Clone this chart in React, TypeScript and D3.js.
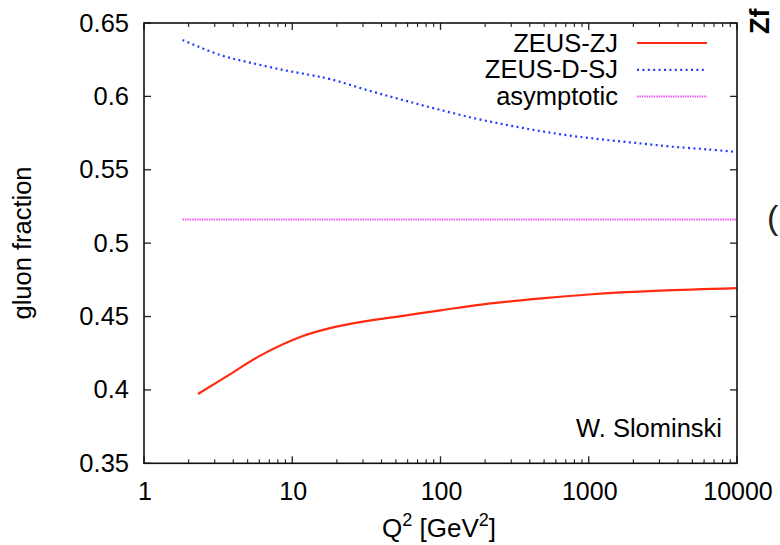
import React from "react";
import * as d3 from "d3";

// Gluon momentum fraction vs Q^2 for two parametrisations, plus the asymptotic value
const zjQ2 = [2.31, 3.63, 6.35, 11.8, 18, 30, 56, 100, 200, 500, 1000, 3000, 10000];
const zjFrac = [0.3972, 0.4094, 0.4244, 0.4367, 0.4421, 0.4465, 0.4505, 0.4542, 0.4585, 0.4625, 0.465, 0.4676, 0.4694];

const dsjQ2 = [1.82, 3.26, 5.19, 8.7, 13.2, 18, 33.5, 55.9, 94.3, 165.7, 281, 469, 783, 1327, 2217, 3700, 6280, 10000];
const dsjFrac = [0.6384, 0.6282, 0.623, 0.618, 0.6146, 0.6118, 0.6037, 0.5975, 0.5914, 0.5853, 0.5805, 0.5764, 0.573, 0.5703, 0.568, 0.5657, 0.5639, 0.5621];

const asymQ2 = [1.82, 10000];
const asymFrac = [16 / 31, 16 / 31];

const xTickValues = [1, 10, 100, 1000, 10000];
const xTickLabels = ["1", "10", "100", "1000", "10000"];
const yTickValues = [0.35, 0.4, 0.45, 0.5, 0.55, 0.6, 0.65];
const yTickLabels = ["0.35", "0.4", "0.45", "0.5", "0.55", "0.6", "0.65"];

const legendNames = ["ZEUS-ZJ", "ZEUS-D-SJ", "asymptotic"];

const W = 780;
const H = 545;
const left = 144;
const right = 737;
const top = 23;
const bottom = 463.3;
const FONT = "'Liberation Sans', Arial, Helvetica, sans-serif";

export default function App() {
  const x = d3.scaleLog().domain([1, 10000]).range([left, right]);
  const y = d3.scaleLinear().domain([0.35, 0.65]).range([bottom, top]);

  const line = d3
    .line<[number, number]>()
    .x((d) => x(d[0]))
    .y((d) => y(d[1]))
    .curve(d3.curveCatmullRom.alpha(0.5));

  const zj = zjQ2.map((q, i) => [q, zjFrac[i]] as [number, number]);
  const dsj = dsjQ2.map((q, i) => [q, dsjFrac[i]] as [number, number]);
  const asym = asymQ2.map((q, i) => [q, asymFrac[i]] as [number, number]);

  const styles = [
    { stroke: "#ff2a10", width: 2.2, dash: undefined as string | undefined },
    { stroke: "#1f3dff", width: 2.2, dash: "2,3.4" },
    { stroke: "#f34df3", width: 2, dash: "1.4,1" },
  ];
  const series = [zj, dsj, asym];

  // minor ticks on the log axis
  const minor: number[] = [];
  for (let dec = 1; dec < 10000; dec *= 10) {
    for (let k = 2; k <= 9; k++) minor.push(dec * k);
  }

  const tickColor = "#222";
  const major = 7;
  const minorLen = 4;

  return (
    <svg
      width={W}
      height={H}
      style={{ position: "absolute", left: 0, top: 0, background: "#fff" }}
      fontFamily={FONT}
    >
      <rect x={0} y={0} width={W} height={H} fill="#fff" />

      {/* x ticks, bottom and top */}
      {xTickValues.map((v) => (
        <g key={"xM" + v}>
          <line x1={x(v)} x2={x(v)} y1={bottom} y2={bottom - major} stroke={tickColor} strokeWidth={1.3} />
          <line x1={x(v)} x2={x(v)} y1={top} y2={top + major} stroke={tickColor} strokeWidth={1.3} />
        </g>
      ))}
      {minor.map((v) => (
        <g key={"xm" + v}>
          <line x1={x(v)} x2={x(v)} y1={bottom} y2={bottom - minorLen} stroke={tickColor} strokeWidth={1.1} />
          <line x1={x(v)} x2={x(v)} y1={top} y2={top + minorLen} stroke={tickColor} strokeWidth={1.1} />
        </g>
      ))}
      {/* y ticks, left and right */}
      {yTickValues.map((v) => (
        <g key={"y" + v}>
          <line x1={left} x2={left + major} y1={y(v)} y2={y(v)} stroke={tickColor} strokeWidth={1.3} />
          <line x1={right} x2={right - major} y1={y(v)} y2={y(v)} stroke={tickColor} strokeWidth={1.3} />
        </g>
      ))}

      {/* tick labels */}
      {xTickValues.map((v, i) => (
        <text key={"xl" + v} x={x(v) + 1} y={500} textAnchor="middle" fontSize={25} fill="#000">
          {xTickLabels[i]}
        </text>
      ))}
      {yTickValues.map((v, i) => (
        <text key={"yl" + v} x={129} y={y(v) + 8.5} textAnchor="end" fontSize={25.5} fill="#000">
          {yTickLabels[i]}
        </text>
      ))}

      {/* curves */}
      {series.map((s, i) => (
        <path
          key={"s" + i}
          d={line(s) || ""}
          fill="none"
          stroke={styles[i].stroke}
          strokeWidth={styles[i].width}
          strokeDasharray={styles[i].dash}
        />
      ))}

      {/* legend */}
      {legendNames.map((name, i) => {
        const ly = 43 + i * 26.8;
        return (
          <g key={"lg" + i}>
            <text x={618} y={ly + 8.5} textAnchor="end" fontSize={25.5} fill="#000">
              {name}
            </text>
            <line
              x1={637}
              x2={707}
              y1={ly}
              y2={ly}
              stroke={styles[i].stroke}
              strokeWidth={styles[i].width}
              strokeDasharray={styles[i].dash}
            />
          </g>
        );
      })}

      {/* frame */}
      <rect x={left} y={top} width={right - left} height={bottom - top} fill="none" stroke="#111" strokeWidth={1.6} />

      {/* author tag */}
      <text x={722} y={437} textAnchor="end" fontSize={25.5} fill="#000">
        W. Slominski
      </text>

      {/* axis titles */}
      <text x={439} y={537} textAnchor="middle" fontSize={26} fill="#000">
        Q<tspan fontSize={18} dy={-11}>2</tspan>
        <tspan dy={11}> [GeV</tspan>
        <tspan fontSize={18} dy={-11}>2</tspan>
        <tspan dy={11}>]</tspan>
      </text>
      <text
        transform="translate(31,243) rotate(-90)"
        textAnchor="middle"
        fontSize={25.5}
        fill="#000"
      >
        gluon fraction
      </text>

      {/* neighbouring-panel fragments at the right edge */}
      <text transform="translate(769,34) rotate(-90)" fontSize={27} fontWeight="bold" fill="#000">
        Zf
      </text>
      <text x={767} y={229} fontSize={34} fill="#222">
        (
      </text>
    </svg>
  );
}
